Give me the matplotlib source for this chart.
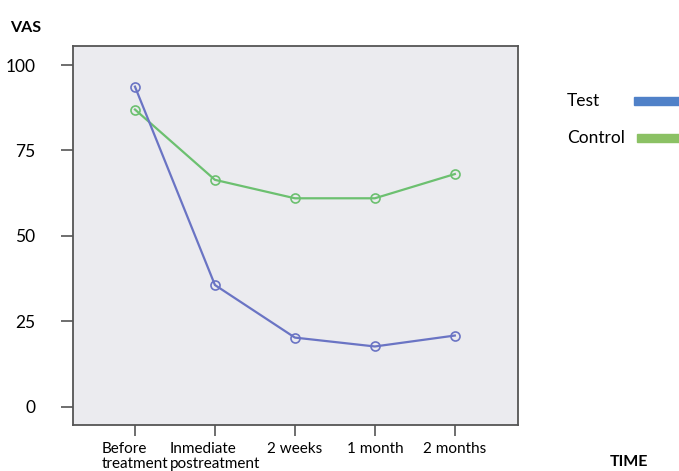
import matplotlib
matplotlib.use("Agg")
import matplotlib.pyplot as plt
from matplotlib.patches import Rectangle

categories = ["Before\ntreatment", "Inmediate\npostreatment", "2 weeks", "1 month", "2 months"]
test_values = [93.7, 35.6, 20.2, 17.6, 20.8]
control_values = [87.0, 66.4, 61.0, 61.0, 68.1]
y_ticks = [0, 25, 50, 75, 100]

plt.rcParams['font.family'] = ['Lato', 'DejaVu Sans']

W, H = 679, 471
fig = plt.figure(figsize=(W / 100, H / 100), dpi=100)
fig.patch.set_facecolor('white')
ax = fig.add_axes([73 / W, 1 - 425 / H, (518 - 73) / W, (425 - 46) / H])
ax.set_facecolor('#ebebef')

x = list(range(len(categories)))
ax.plot(x, control_values, color='#6cc070', lw=1.6, marker='o', ms=6.5,
        mfc='none', mec='#6cc070', mew=1.2)
ax.plot(x, test_values, color='#6a74c4', lw=1.6, marker='o', ms=6.5,
        mfc='none', mec='#6a74c4', mew=1.2)

ax.set_xlim(-0.775, 4.79)
ax.set_ylim(-5.4, 105.6)
ax.set_yticks(y_ticks)
ax.set_yticklabels([str(v) for v in y_ticks], fontsize=12.5)
ax.set_xticks(x)
ax.set_xticklabels(categories, fontsize=11, linespacing=1.12)
for lbl in ax.get_xticklabels():
    lbl.set_verticalalignment('top')
    lbl.set_multialignment('left')
ax.tick_params(axis='y', length=9, width=1.2, color='#555555', pad=18)
ax.tick_params(axis='x', length=8, width=1.2, color='#555555', pad=4)
for s in ax.spines.values():
    s.set_color('#555555')
    s.set_linewidth(1.3)

fig.text(10 / W, 1 - 28 / H, "VAS", fontsize=11.5, fontweight='bold', va='center', ha='left')
fig.text(610 / W, 1 - 462 / H, "TIME", fontsize=11.5, fontweight='bold', va='center', ha='left')

# legend
fig.text(567 / W, 1 - 101 / H, "Test", fontsize=12.5, va='center', ha='left')
fig.text(567 / W, 1 - 138 / H, "Control", fontsize=12.5, va='center', ha='left')
fig.patches.append(Rectangle((634 / W, 1 - 105 / H), 50 / W, 8 / H,
                             transform=fig.transFigure, color='#5081c8'))
fig.patches.append(Rectangle((637 / W, 1 - 142 / H), 50 / W, 8 / H,
                             transform=fig.transFigure, color='#8bc164'))

fig.savefig("out.png", dpi=100)
